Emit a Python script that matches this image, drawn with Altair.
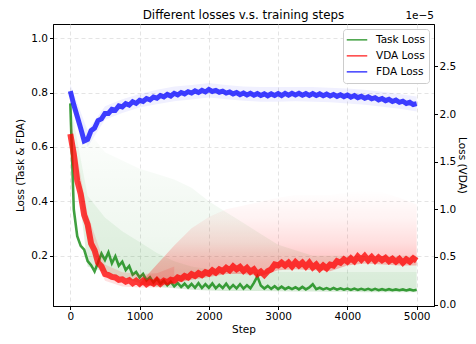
import altair as alt
import pandas as pd

# ---------------- data ----------------
steps = list(range(0, 5001, 50))

task_loss = [
    0.760, 0.370, 0.272, 0.236, 0.222, 0.180, 0.165, 0.142, 0.175, 0.208,
    0.184, 0.212, 0.172, 0.198, 0.163, 0.178, 0.147, 0.162, 0.130, 0.140,
    0.120, 0.133, 0.109, 0.121, 0.101, 0.116, 0.097, 0.109, 0.091, 0.104,
    0.087, 0.099, 0.085, 0.097, 0.083, 0.096, 0.082, 0.099, 0.081, 0.095,
    0.082, 0.098, 0.080, 0.093, 0.081, 0.097, 0.079, 0.092, 0.080, 0.095,
    0.079, 0.091, 0.080, 0.100, 0.124, 0.090, 0.079, 0.089, 0.078, 0.088,
    0.077, 0.086, 0.077, 0.084, 0.077, 0.084, 0.076, 0.085, 0.076, 0.083,
    0.095, 0.077, 0.082, 0.076, 0.081, 0.075, 0.081, 0.075, 0.080, 0.075,
    0.079, 0.074, 0.079, 0.074, 0.078, 0.074, 0.078, 0.073, 0.078, 0.073,
    0.077, 0.073, 0.077, 0.073, 0.076, 0.073, 0.076, 0.072, 0.076, 0.072,
    0.075,
]

# VDA loss in units of 1e-5
vda_loss = [
    1.79, 1.58, 1.30, 1.16, 0.94, 0.84, 0.64, 0.57, 0.44, 0.40,
    0.32, 0.31, 0.29, 0.285, 0.26, 0.265, 0.24, 0.255, 0.225, 0.25,
    0.22, 0.25, 0.215, 0.24, 0.22, 0.255, 0.22, 0.25, 0.235, 0.26,
    0.25, 0.285, 0.27, 0.30, 0.285, 0.32, 0.30, 0.33, 0.31, 0.34,
    0.325, 0.36, 0.335, 0.37, 0.35, 0.385, 0.36, 0.40, 0.37, 0.395,
    0.355, 0.385, 0.345, 0.37, 0.32, 0.345, 0.31, 0.35, 0.37, 0.42,
    0.41, 0.44, 0.41, 0.44, 0.40, 0.445, 0.41, 0.44, 0.40, 0.44,
    0.39, 0.42, 0.375, 0.41, 0.38, 0.42, 0.41, 0.455, 0.44, 0.475,
    0.45, 0.485, 0.455, 0.505, 0.47, 0.51, 0.465, 0.50, 0.46, 0.495,
    0.465, 0.49, 0.455, 0.48, 0.45, 0.48, 0.44, 0.475, 0.45, 0.485,
    0.46,
]

fda_loss = [
    0.805, 0.755, 0.712, 0.668, 0.622, 0.628, 0.660, 0.669, 0.697, 0.703,
    0.723, 0.723, 0.738, 0.735, 0.751, 0.747, 0.759, 0.754, 0.766, 0.760,
    0.771, 0.767, 0.778, 0.773, 0.783, 0.779, 0.789, 0.784, 0.793, 0.787,
    0.797, 0.791, 0.800, 0.795, 0.803, 0.798, 0.806, 0.800, 0.808, 0.802,
    0.811, 0.804, 0.808, 0.801, 0.805, 0.798, 0.802, 0.795, 0.800, 0.792,
    0.798, 0.791, 0.797, 0.790, 0.796, 0.789, 0.795, 0.788, 0.795, 0.789,
    0.796, 0.789, 0.797, 0.790, 0.797, 0.791, 0.797, 0.790, 0.796, 0.789,
    0.796, 0.789, 0.795, 0.788, 0.794, 0.787, 0.793, 0.786, 0.792, 0.785,
    0.791, 0.783, 0.789, 0.781, 0.786, 0.779, 0.784, 0.777, 0.781, 0.773,
    0.778, 0.770, 0.775, 0.767, 0.772, 0.764, 0.768, 0.760, 0.764, 0.756,
    0.759,
]

# faint spread of the raw (unsmoothed) values
band_steps = list(range(0, 5001, 250))
task_wide_hi = [0.78, 0.66, 0.58, 0.55, 0.52, 0.50, 0.48, 0.45, 0.40, 0.36,
                0.32, 0.28, 0.24, 0.22, 0.20, 0.20, 0.20, 0.20, 0.20, 0.20, 0.20]
task_near_hi = [0.76, 0.42, 0.34, 0.29, 0.25, 0.21, 0.18, 0.16, 0.15, 0.145,
                0.14, 0.14, 0.14, 0.14, 0.14, 0.14, 0.14, 0.14, 0.14, 0.14, 0.14]
task_lo = [0.70, 0.16, 0.14, 0.12, 0.10, 0.085, 0.08, 0.075, 0.072, 0.07,
           0.07, 0.07, 0.069, 0.068, 0.068, 0.067, 0.067, 0.066, 0.066, 0.066, 0.066]

fda_hi = [0.830, 0.660, 0.750, 0.775, 0.795, 0.810, 0.822, 0.828, 0.835, 0.828,
          0.822, 0.820, 0.820, 0.820, 0.820, 0.818, 0.815, 0.810, 0.803, 0.795, 0.785]
fda_lo = [0.780, 0.600, 0.700, 0.725, 0.745, 0.757, 0.768, 0.774, 0.782, 0.775,
          0.770, 0.766, 0.766, 0.768, 0.766, 0.764, 0.760, 0.755, 0.748, 0.740, 0.730]

# VDA spread: a narrow halo early, a tall fading haze later
vda_early_steps = [0, 250, 500, 750, 1000, 1250, 1500]
vda_early_hi = [1.95, 0.95, 0.42, 0.34, 0.32, 0.33, 0.40]
vda_early_lo = [1.70, 0.70, 0.25, 0.19, 0.18, 0.18, 0.21]

vda_late_steps = list(range(1000, 5001, 250))
vda_late_hi = [0.22, 0.42, 0.62, 0.80, 0.92, 1.00, 1.04, 1.08, 1.12,
               1.15, 1.15, 1.15, 1.18, 1.20, 1.18, 1.12, 1.05]
vda_late_lo = [0.20, 0.20, 0.22, 0.26, 0.29, 0.32, 0.32, 0.30, 0.36,
               0.37, 0.36, 0.35, 0.41, 0.43, 0.42, 0.41, 0.41]

series_names = ["Task Loss", "VDA Loss", "FDA Loss"]
series_colors = ["#008000", "#ff0000", "#0000ff"]

x_ticks = [0, 1000, 2000, 3000, 4000, 5000]
left_ticks = [0.2, 0.4, 0.6, 0.8, 1.0]
right_ticks = [0.0, 0.5, 1.0, 1.5, 2.0, 2.5]

# ---------------- frames ----------------
task_df = pd.DataFrame({"step": steps, "value": task_loss, "series": series_names[0]})
vda_df = pd.DataFrame({"step": steps, "value": vda_loss, "series": series_names[1]})
fda_df = pd.DataFrame({"step": steps, "value": fda_loss, "series": series_names[2]})

band_df = pd.DataFrame({
    "step": band_steps,
    "task_wide_hi": task_wide_hi, "task_near_hi": task_near_hi, "task_lo": task_lo,
    "fda_hi": fda_hi, "fda_lo": fda_lo,
})
vda_early_df = pd.DataFrame({"step": vda_early_steps, "hi": vda_early_hi, "lo": vda_early_lo})
vda_late_df = pd.DataFrame({"step": vda_late_steps, "hi": vda_late_hi, "lo": vda_late_lo})

FONT = "DejaVu Sans"
W, H = 381, 282

x_enc = alt.X(
    "step:Q",
    scale=alt.Scale(domain=[-250, 5250], nice=False, zero=False),
    axis=alt.Axis(values=x_ticks, title="Step", grid=True, format="d",
                  labelPadding=2, titlePadding=2),
)


def y_left(field):
    return alt.Y(
        field,
        scale=alt.Scale(domain=[0.015, 1.052], nice=False, zero=False),
        axis=alt.Axis(values=left_ticks, format=".1f", title="Loss (Task & FDA)",
                      orient="left", grid=True, labelPadding=2, titlePadding=5),
    )


def y_right(field):
    return alt.Y(
        field,
        scale=alt.Scale(domain=[-0.015, 2.945], nice=False, zero=False),
        axis=alt.Axis(values=right_ticks, format=".1f", title="Loss (VDA)",
                      orient="right", grid=False, labelPadding=1.5, titlePadding=1),
    )


def fade(r, g, b, stops):
    return alt.Gradient(
        gradient="linear", x1=0, x2=0, y1=0, y2=1,
        stops=[alt.GradientStop(color=f"rgba({r},{g},{b},{a})", offset=o) for o, a in stops],
    )


color_enc = alt.Color(
    "series:N",
    scale=alt.Scale(domain=series_names, range=series_colors),
    legend=alt.Legend(title=None),
)

# left axis layers
task_wide = alt.Chart(band_df).mark_area(
    color=fade(0, 128, 0, [(0, 0.0), (0.3, 0.025), (0.7, 0.06), (1, 0.1)])
).encode(x=x_enc, y=y_left("task_wide_hi:Q"), y2="task_lo:Q")
task_near = alt.Chart(band_df).mark_area(color="#008000", opacity=0.06).encode(
    x=x_enc, y=y_left("task_near_hi:Q"), y2="task_lo:Q")
fda_band = alt.Chart(band_df).mark_area(color="#0000ff", opacity=0.06).encode(
    x=x_enc, y=y_left("fda_hi:Q"), y2="fda_lo:Q")
task_line = alt.Chart(task_df).mark_line(strokeWidth=2.6, opacity=0.75).encode(
    x=x_enc, y=y_left("value:Q"), color=color_enc)
fda_line = alt.Chart(fda_df).mark_line(strokeWidth=5, opacity=0.75).encode(
    x=x_enc, y=y_left("value:Q"), color=color_enc)

left = alt.layer(task_wide, task_near, fda_band, task_line, fda_line)

# right axis layers
vda_early = alt.Chart(vda_early_df).mark_area(color="#ff0000", opacity=0.12).encode(
    x=x_enc, y=y_right("hi:Q"), y2="lo:Q")
vda_late = alt.Chart(vda_late_df).mark_area(
    color=fade(255, 0, 0, [(0, 0.0), (0.3, 0.05), (0.55, 0.13), (0.75, 0.24), (1, 0.3)])
).encode(x=x_enc, y=y_right("hi:Q"), y2="lo:Q")
vda_line = alt.Chart(vda_df).mark_line(strokeWidth=6, opacity=0.75).encode(
    x=x_enc, y=y_right("value:Q"), color=color_enc)
offset_text = alt.Chart(pd.DataFrame({"t": ["1e\u22125"]})).mark_text(
    align="right", baseline="bottom", font=FONT, fontSize=10.5, color="black"
).encode(x=alt.value(W), y=alt.value(-3), text="t:N")

right = alt.layer(vda_early, vda_late, vda_line, offset_text)

chart = (
    alt.layer(left, right)
    .resolve_scale(y="independent")
    .properties(
        width=W,
        height=H,
        autosize=alt.AutoSizeParams(type="none"),
        padding={"left": 45, "top": 16, "right": 34, "bottom": 30},
        title=alt.Title("Different losses v.s. training steps", offset=0, dy=11),
    )
    .configure_view(stroke="black", strokeWidth=1)
    .configure_axis(
        domainColor="black", tickColor="black", labelColor="black", titleColor="black",
        labelFont=FONT, titleFont=FONT, labelFontSize=10.5, titleFontSize=10.5,
        titleFontWeight="normal", tickSize=3.5, domainWidth=1,
        gridColor="#dddddd", gridDash=[4, 3], gridWidth=0.8,
    )
    .configure_title(font=FONT, fontSize=11.9, fontWeight="normal", color="black")
    .configure_legend(
        orient="top-right", offset=5, fillColor="white", strokeColor="#cccccc",
        cornerRadius=3, padding=3, labelFont=FONT, labelFontSize=10.5,
        labelColor="black", symbolType="stroke", symbolStrokeWidth=1.5,
        symbolSize=420, symbolOpacity=0.75, rowPadding=0, labelOffset=8,
        clipHeight=15.7,
    )
)

chart.save("out.html", embed_options={"renderer": "svg", "actions": False})
